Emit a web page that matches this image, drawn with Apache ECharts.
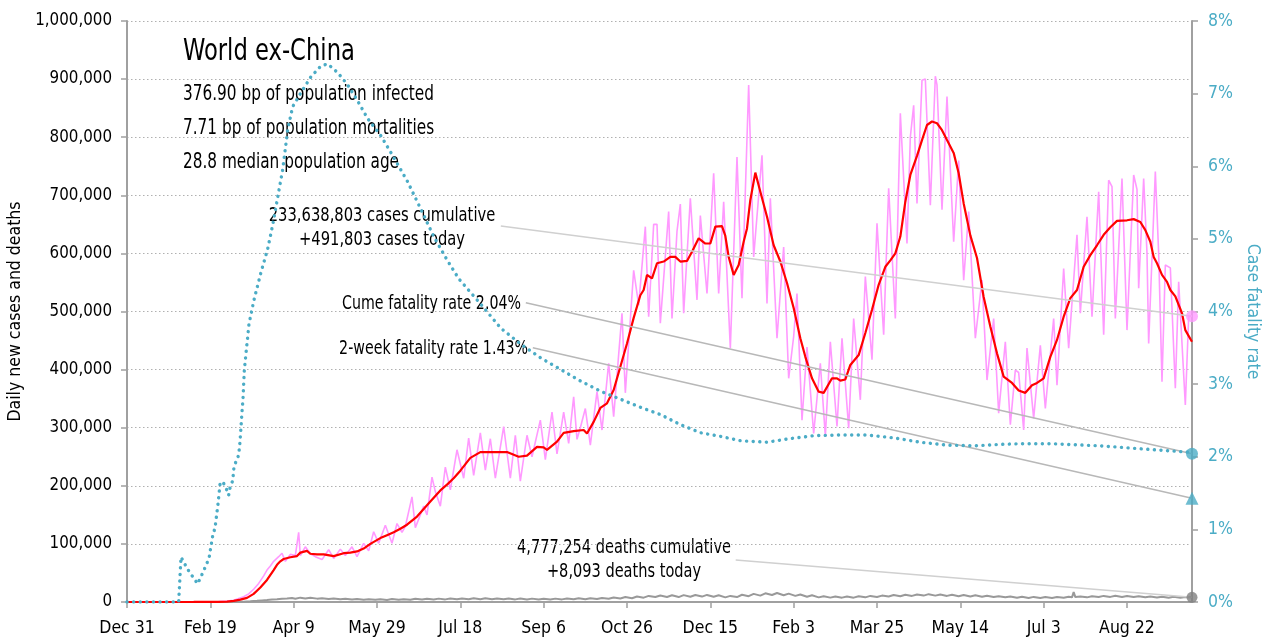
<!DOCTYPE html>
<html><head><meta charset="utf-8">
<script src="https://cdn.jsdelivr.net/npm/echarts@6/dist/echarts.min.js"></script>
<style>html,body{margin:0;padding:0;background:#fff}#c{width:1265px;height:640px}</style>
</head><body><div id="c"></div>
<script>
// x = days since Dec 31, 2019; case/death values in thousands; CFR in %
const tickLabels = ["Dec 31","Feb 19","Apr 9","May 29","Jul 18","Sep 6","Oct 26","Dec 15","Feb 3","Mar 25","May 14","Jul 3","Aug 22"];
const lastDay = 639;

const dailyCases = [[0,0],[20,0.05],[40,0.1],[50,0.3],[55,0.6],[60,1.8],[64,3],[67,6],[70,9],[73,14],[76,22],[79,32],[82,45],[84,55],[86,62],[88,70],[91,78],[93,84],[95,70],[98,82],[101,80],[103,120],[104,80],[107,95],[110,83],[113,78],[117,73],[121,90],[124,75],[128,91],[131,80],[135,95],[138,78],[142,101],[145,88],[148,121],[151,101],[155,132],[159,101],[162,135],[165,120],[167,130],[171,181],[173,128],[176,150],[178,165],[180,150],[183,215],[185,190],[188,165],[191,232],[194,193],[198,262],[202,213],[205,282],[208,218],[212,291],[215,227],[218,281],[221,213],[226,302],[230,213],[233,287],[236,208],[240,287],[243,250],[248,313],[251,245],[255,327],[258,255],[262,327],[265,273],[268,353],[270,280],[272,300],[275,333],[278,270],[282,362],[285,296],[289,411],[292,319],[297,497],[299,360],[304,571],[307,511],[311,646],[313,491],[316,650],[318,650],[320,480],[325,672],[327,488],[330,638],[332,685],[334,497],[338,695],[342,520],[344,665],[348,531],[352,738],[355,531],[358,689],[362,437],[366,766],[369,523],[373,890],[376,594],[381,769],[384,514],[386,695],[390,454],[394,611],[397,385],[400,457],[402,531],[405,313],[408,439],[412,290],[416,411],[419,285],[422,448],[426,302],[429,454],[433,299],[436,488],[440,348],[443,560],[447,417],[450,652],[454,460],[457,712],[461,488],[464,841],[468,617],[470,800],[472,855],[474,686],[477,898],[479,900],[482,683],[485,905],[486,890],[489,675],[492,870],[496,620],[499,760],[502,554],[505,672],[509,454],[513,554],[516,382],[520,488],[523,325],[527,448],[530,305],[533,399],[535,395],[538,296],[540,437],[544,316],[548,442],[551,333],[556,488],[558,373],[562,574],[565,437],[570,632],[572,497],[576,663],[579,491],[583,706],[586,460],[589,726],[591,715],[593,488],[597,729],[600,468],[604,735],[606,710],[607,540],[610,729],[612,600],[613,445],[617,741],[619,600],[621,379],[623,580],[626,575],[629,368],[631,551],[635,339],[637,491],[639,492]];

const avgCases = [[0,0],[40,0.1],[55,0.3],[60,0.8],[64,2],[68,4],[72,7],[76,14],[80,25],[84,38],[88,55],[90,64],[92,70],[94,74],[98,77],[102,79],[104,85],[108,88],[110,83],[114,82],[118,82],[124,79],[130,84],[134,85],[138,87],[142,92],[146,100],[152,110],[156,115],[160,120],[164,126],[168,133],[174,147],[178,160],[182,173],[188,192],[192,202],[196,213],[200,226],[206,248],[212,258],[220,258],[228,258],[235,250],[240,252],[246,267],[250,266],[252,262],[258,276],[262,291],[268,294],[274,296],[276,290],[280,310],[284,334],[288,342],[292,365],[296,405],[300,445],[304,489],[308,528],[310,537],[312,563],[315,557],[318,583],[322,586],[326,594],[329,594],[332,586],[336,587],[339,603],[343,626],[347,617],[350,617],[353,646],[357,647],[359,630],[361,594],[364,563],[367,580],[370,620],[372,643],[374,692],[377,739],[380,706],[384,663],[388,614],[392,586],[396,549],[400,506],[404,454],[407,422],[411,385],[415,362],[418,360],[423,385],[426,385],[428,381],[431,383],[434,408],[439,425],[443,463],[447,503],[451,546],[455,577],[458,588],[461,600],[464,629],[467,689],[470,735],[474,768],[477,795],[480,821],[483,827],[486,824],[489,812],[492,795],[496,773],[499,738],[502,686],[506,631],[510,592],[514,525],[518,474],[522,428],[526,388],[531,377],[535,364],[539,360],[543,373],[546,377],[550,385],[554,422],[558,451],[562,491],[566,523],[570,537],[574,577],[578,597],[582,614],[586,632],[590,645],[594,656],[600,657],[604,659],[608,654],[611,640],[614,620],[616,594],[618,583],[621,563],[624,551],[626,537],[629,526],[633,497],[635,468],[639,448]];

const dailyDeaths = [[0,0],[50,0.05],[60,0.1],[66,0.3],[70,0.6],[74,1.2],[78,2.0],[81,2.8],[84,3.5],[87,4.3],[90,4.8],[93,5.6],[96,6.0],[99,6.8],[101,5.5],[104,7.5],[107,6.0],[110,7.2],[114,5.8],[117,6.5],[121,5.0],[124,6.1],[128,4.6],[131,5.6],[135,4.3],[138,5.3],[142,3.8],[145,4.7],[149,3.7],[152,4.7],[156,3.6],[159,5.0],[163,3.8],[166,4.8],[170,3.9],[173,5.6],[177,4.2],[180,5.6],[184,4.3],[187,5.8],[191,4.5],[194,5.9],[198,4.6],[201,6.2],[205,4.9],[208,6.4],[212,4.8],[215,6.3],[219,4.6],[222,6.2],[226,4.6],[229,6.0],[233,4.5],[236,6.0],[240,4.3],[243,5.8],[247,4.2],[250,5.7],[254,4.2],[257,5.8],[261,4.5],[264,6.2],[268,4.6],[271,6.3],[275,4.9],[278,6.5],[282,5.0],[285,7.0],[289,5.5],[292,7.8],[296,6.0],[299,8.5],[303,6.5],[306,9.5],[310,7.5],[313,10.5],[317,8.5],[320,11.2],[324,8.7],[327,11.5],[331,8.5],[334,11.8],[338,9.0],[341,12.0],[345,9.3],[348,12.2],[352,9.0],[355,11.5],[359,8.0],[362,10.5],[366,8.5],[369,12.5],[373,10.0],[376,14.0],[380,11.0],[383,15.0],[387,12.0],[390,15.5],[394,11.5],[397,14.5],[401,10.5],[404,13.0],[408,9.0],[411,11.5],[415,8.0],[418,10.0],[422,7.5],[425,9.5],[429,7.5],[432,9.5],[436,7.5],[439,9.8],[443,8.0],[446,10.5],[450,8.5],[453,11.0],[457,9.5],[460,12.0],[464,10.0],[467,12.5],[471,10.5],[474,13.0],[478,11.0],[481,13.5],[485,11.0],[488,13.0],[492,10.5],[495,12.5],[499,10.0],[502,12.0],[506,9.5],[509,11.5],[513,9.0],[516,10.8],[520,8.5],[523,10.0],[527,8.0],[530,9.5],[534,7.5],[537,9.0],[541,7.0],[544,8.8],[548,7.0],[551,8.5],[555,7.0],[558,8.6],[562,7.2],[565,9.0],[567,8.0],[568,17.0],[569,8.5],[572,9.5],[576,8.0],[579,10.0],[583,8.5],[586,10.5],[590,8.8],[593,10.8],[597,8.7],[600,10.5],[604,8.5],[607,10.0],[611,8.0],[614,9.5],[618,7.8],[621,9.2],[625,7.5],[628,9.0],[632,7.2],[635,8.5],[639,8.1]];

const caseFatality = [[0,0],[31,0],[32.4,0.62],[36.4,0.45],[42.4,0.25],[45.4,0.4],[49.2,0.6],[51.4,0.91],[52.8,1.02],[54.4,1.31],[55.8,1.62],[57.4,1.66],[59.4,1.57],[61,1.47],[61.8,1.57],[63.4,1.67],[64.2,1.86],[65.8,1.96],[67,2.02],[67.8,2.21],[68.4,2.41],[69,2.62],[69.6,2.8],[70.4,3.2],[73.2,3.83],[76.2,4.16],[80.4,4.54],[84.4,4.86],[87.4,5.19],[90.4,5.57],[93.4,5.95],[96.4,6.5],[99.4,6.82],[104.3,7.01],[110.3,7.23],[116.3,7.38],[120.4,7.41],[126.4,7.29],[132.4,7.12],[138.4,6.9],[144.3,6.66],[152.3,6.42],[160.1,6.12],[168.3,5.79],[176.3,5.41],[184.1,5.03],[192.3,4.7],[199.1,4.45],[212.3,4.1],[224.3,3.77],[236.3,3.55],[248.3,3.36],[260.3,3.2],[272.3,3.04],[284.3,2.9],[296.3,2.79],[308.2,2.68],[320.2,2.58],[332.2,2.44],[344.2,2.33],[356.2,2.28],[368.2,2.22],[384.2,2.2],[398,2.25],[412,2.29],[428,2.3],[444,2.3],[460,2.26],[476,2.2],[492,2.16],[508,2.15],[524,2.17],[536,2.18],[554,2.18],[584,2.15],[614,2.1],[639,2.06]];

const todayCases = 491.803;      // thousands
const todayDeaths = 8.093;       // thousands
const cumeFatality = 2.04;       // %
const twoWeekFatality = 1.43;    // %

const titleText = "World ex-China";
const subLines = ["376.90 bp of population infected","7.71 bp of population mortalities","28.8 median population age"];
const casesNote = ["233,638,803 cases cumulative","+491,803 cases today"];
const deathsNote = ["4,777,254 deaths cumulative","+8,093 deaths today"];
const cumeNote = "Cume fatality rate 2.04%";
const twoWeekNote = "2-week fatality rate 1.43%";

const FONT = "'DejaVu Sans Condensed','DejaVu Sans',sans-serif";
const TEAL = '#4BACC6';

const chart = echarts.init(document.getElementById('c'));
function txt(x, y, t, size, align, sx) {
  return {type:'text', x:x, y:y, scaleX:sx, scaleY:1,
    style:{text:t, font: size+'px '+FONT, fill:'#000', align:align||'left', verticalAlign:'middle'}};
}
const option = {
  animation:false,
  grid:{left:127, right:73, top:21, bottom:38, containLabel:false, outerBoundsMode:'none'},
  xAxis:{type:'value', min:0, max:lastDay, interval:50,
    axisLine:{lineStyle:{color:'#a0a0a0', width:2}},
    axisTick:{show:true, length:6, lineStyle:{color:'#a0a0a0', width:1.5}},
    axisLabel:{margin:17, color:'#000', fontFamily:FONT, fontSize:17.5, showMaxLabel:false,
      formatter:v => (v % 50 === 0 ? (tickLabels[v/50] || '') : '')},
    splitLine:{show:false}},
  yAxis:[
    {type:'value', min:0, max:1000, interval:100, position:'left',
     name:'Daily new cases and deaths', nameLocation:'middle', nameGap:97, nameRotate:90,
     nameTextStyle:{color:'#000', fontFamily:FONT, fontSize:17.5},
     axisLine:{show:true, lineStyle:{color:'#a0a0a0', width:2}},
     axisTick:{show:true, length:6, lineStyle:{color:'#a0a0a0', width:1.5}},
     axisLabel:{margin:15, color:'#000', fontFamily:FONT, fontSize:16.8,
       formatter:v => (v*1000).toLocaleString('en-US')},
     splitLine:{show:true, lineStyle:{color:'#b0b0b0', type:[1.5,2.5], width:1}}},
    {type:'value', min:0, max:8, interval:1, position:'right',
     name:'Case fatality rate', nameLocation:'middle', nameGap:49, nameRotate:-90,
     nameTextStyle:{color:TEAL, fontFamily:FONT, fontSize:17.5},
     axisLine:{show:true, lineStyle:{color:'#a0a0a0', width:2}},
     axisTick:{show:true, length:6, lineStyle:{color:'#a0a0a0', width:1.5}},
     axisLabel:{margin:16, color:TEAL, fontFamily:FONT, fontSize:17.5, formatter:'{value}%'},
     splitLine:{show:false}}
  ],
  series:[
    {type:'line', name:'Daily cases', data:dailyCases, showSymbol:false, symbol:'none',
     lineStyle:{color:'#ff99ff', width:1.6}, z:2,
     markLine:{silent:true, symbol:'none', label:{show:false},
       lineStyle:{color:'#d0d0d0', width:1.5, type:'solid'},
       data:[[{coord:[224.3,647]},{coord:[lastDay,todayCases]}],
             [{coord:[365.2,72.3]},{coord:[lastDay,todayDeaths]}]]}},
    {type:'line', name:'7-day avg', data:avgCases, showSymbol:false, symbol:'none',
     lineStyle:{color:'#ff0000', width:2.2}, z:4},
    {type:'line', name:'Deaths', data:dailyDeaths, showSymbol:false, symbol:'none',
     lineStyle:{color:'#999999', width:2}, z:3},
    {type:'line', name:'CFR', yAxisIndex:1, data:caseFatality, showSymbol:false, symbol:'none',
     lineStyle:{color:TEAL, width:3.4, type:[0.1,6.5], cap:'round'}, z:5,
     markLine:{silent:true, symbol:'none', label:{show:false},
       lineStyle:{color:'#b8b8b8', width:1.5, type:'solid'},
       data:[[{coord:[239.3,4.12]},{coord:[lastDay,cumeFatality]}],
             [{coord:[243.5,3.50]},{coord:[lastDay,twoWeekFatality]}]]}},
    {type:'scatter', data:[[lastDay,todayCases]], symbol:'circle', symbolSize:12,
     itemStyle:{color:'#ff99ff'}, z:6},
    {type:'scatter', data:[[lastDay,todayDeaths]], symbol:'circle', symbolSize:11,
     itemStyle:{color:'#808080'}, z:6},
    {type:'scatter', yAxisIndex:1, data:[[lastDay,cumeFatality]], symbol:'circle', symbolSize:12,
     itemStyle:{color:TEAL}, z:6},
    {type:'scatter', yAxisIndex:1, data:[[lastDay,twoWeekFatality]], symbol:'triangle', symbolSize:13,
     itemStyle:{color:TEAL}, z:6}
  ],
  graphic:[
    txt(183, 52, titleText, 30, 'left', 0.84),
    txt(183, 95, subLines[0], 20.5, 'left', 0.83),
    txt(183, 129, subLines[1], 20.5, 'left', 0.83),
    txt(183, 163, subLines[2], 20.5, 'left', 0.83),
    txt(382, 216, casesNote[0], 19.5, 'center', 0.84),
    txt(382, 240, casesNote[1], 19.5, 'center', 0.84),
    txt(521, 304, cumeNote, 19.5, 'right', 0.81),
    txt(528, 349, twoWeekNote, 19.5, 'right', 0.81),
    txt(624, 548, deathsNote[0], 19.5, 'center', 0.83),
    txt(624, 572, deathsNote[1], 19.5, 'center', 0.83)
  ]
};
chart.setOption(option);
</script></body></html>
